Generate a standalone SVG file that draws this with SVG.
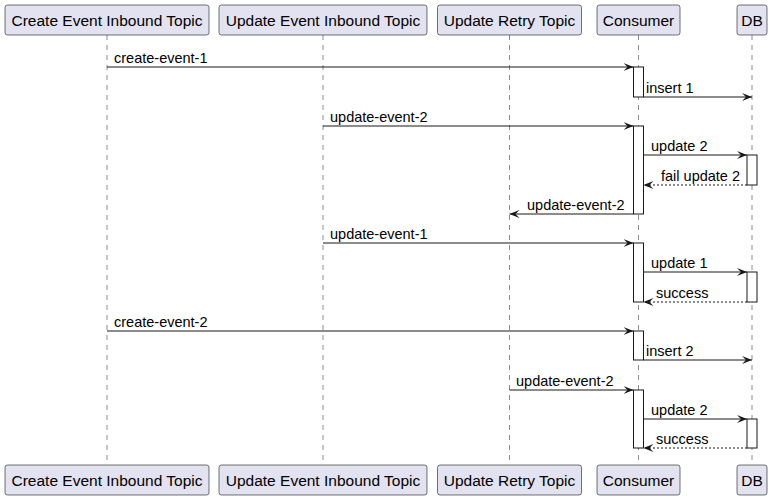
<svg xmlns="http://www.w3.org/2000/svg" width="773" height="501" viewBox="0 0 773 501">
<style>
.p{fill:#E2E2F0;stroke:#181818;stroke-width:0.6}
.pt{font-family:"Liberation Sans",Arial,sans-serif;font-size:15.5px;fill:#000;text-anchor:middle}
.life{stroke:#181818;stroke-width:0.5;stroke-dasharray:5,5}
.act{fill:#fff;stroke:#181818;stroke-width:1}
.m{stroke:#181818;stroke-width:1;fill:none;marker-end:url(#ah)}
.r{stroke-dasharray:2,2}
.ml{font-family:"Liberation Sans",Arial,sans-serif;font-size:14.5px;fill:#000}
</style>
<defs>
<marker id="ah" markerUnits="userSpaceOnUse" markerWidth="10" markerHeight="8" refX="10" refY="4" orient="auto">
<path d="M0,0 L10,4 L0,8 L4,4 Z" fill="#181818"/>
</marker>
</defs>
<rect width="773" height="501" fill="#fff"/>
<g id="lifelines">
<line class="life" x1="107" y1="35" x2="107" y2="465"/>
<line class="life" x1="323" y1="35" x2="323" y2="465"/>
<line class="life" x1="509.5" y1="35" x2="509.5" y2="465"/>
<line class="life" x1="638.5" y1="35" x2="638.5" y2="465"/>
<line class="life" x1="752" y1="35" x2="752" y2="465"/>
</g>
<g id="create">
<rect class="p" x="5" y="5" width="204" height="30" rx="2.5"/>
<text class="pt" x="107" y="26">Create Event Inbound Topic</text>
<rect class="p" x="5" y="465" width="204" height="30" rx="2.5"/>
<text class="pt" x="107" y="486">Create Event Inbound Topic</text>
</g>
<g id="update">
<rect class="p" x="219" y="5" width="208" height="30" rx="2.5"/>
<text class="pt" x="323" y="26">Update Event Inbound Topic</text>
<rect class="p" x="219" y="465" width="208" height="30" rx="2.5"/>
<text class="pt" x="323" y="486">Update Event Inbound Topic</text>
</g>
<g id="retry">
<rect class="p" x="437.5" y="5" width="144" height="30" rx="2.5"/>
<text class="pt" x="509.5" y="26">Update Retry Topic</text>
<rect class="p" x="437.5" y="465" width="144" height="30" rx="2.5"/>
<text class="pt" x="509.5" y="486">Update Retry Topic</text>
</g>
<g id="consumer">
<rect class="p" x="597" y="5" width="83" height="30" rx="2.5"/>
<text class="pt" x="638.5" y="26">Consumer</text>
<rect class="p" x="597" y="465" width="83" height="30" rx="2.5"/>
<text class="pt" x="638.5" y="486">Consumer</text>
<rect class="act" x="633.5" y="67" width="10" height="30"/>
<rect class="act" x="633.5" y="126" width="10" height="88"/>
<rect class="act" x="633.5" y="243" width="10" height="59"/>
<rect class="act" x="633.5" y="331" width="10" height="29"/>
<rect class="act" x="633.5" y="390" width="10" height="58"/>
</g>
<g id="db">
<rect class="p" x="737" y="5" width="30" height="30" rx="2.5"/>
<text class="pt" x="752" y="26">DB</text>
<rect class="p" x="737" y="465" width="30" height="30" rx="2.5"/>
<text class="pt" x="752" y="486">DB</text>
<rect class="act" x="747" y="155" width="10" height="30"/>
<rect class="act" x="747" y="272" width="10" height="30"/>
<rect class="act" x="747" y="419" width="10" height="29"/>
</g>
<g id="connectors">
<line class="m" x1="107" y1="67" x2="633.5" y2="67"/>
<text class="ml" x="114" y="63">create-event-1</text>
<line class="m" x1="643.5" y1="97" x2="752" y2="97"/>
<text class="ml" x="646" y="92.5">insert 1</text>
<line class="m" x1="323" y1="126" x2="633.5" y2="126"/>
<text class="ml" x="330" y="122">update-event-2</text>
<line class="m" x1="643.5" y1="155" x2="747" y2="155"/>
<text class="ml" x="651" y="151">update 2</text>
<line class="m r" x1="747" y1="185" x2="643.5" y2="185"/>
<text class="ml" x="661" y="181">fail update 2</text>
<line class="m" x1="633.5" y1="214" x2="509.5" y2="214"/>
<text class="ml" x="527" y="210">update-event-2</text>
<line class="m" x1="323" y1="243" x2="633.5" y2="243"/>
<text class="ml" x="330" y="239">update-event-1</text>
<line class="m" x1="643.5" y1="272" x2="747" y2="272"/>
<text class="ml" x="651" y="268">update 1</text>
<line class="m r" x1="747" y1="302" x2="643.5" y2="302"/>
<text class="ml" x="656" y="298">success</text>
<line class="m" x1="107" y1="331" x2="633.5" y2="331"/>
<text class="ml" x="114" y="327">create-event-2</text>
<line class="m" x1="643.5" y1="360" x2="752" y2="360"/>
<text class="ml" x="646" y="356">insert 2</text>
<line class="m" x1="509.5" y1="390" x2="633.5" y2="390"/>
<text class="ml" x="516" y="386">update-event-2</text>
<line class="m" x1="643.5" y1="419" x2="747" y2="419"/>
<text class="ml" x="651" y="415">update 2</text>
<line class="m r" x1="747" y1="448" x2="643.5" y2="448"/>
<text class="ml" x="656" y="444">success</text>
</g>
</svg>
